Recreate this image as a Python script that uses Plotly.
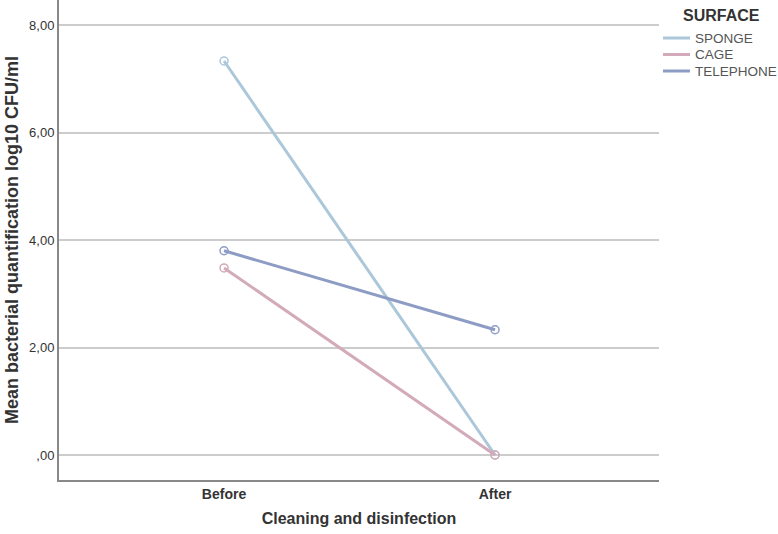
import plotly.graph_objects as go

categories = ["Before", "After"]
surfaces = ["SPONGE", "CAGE", "TELEPHONE"]
sponge = [7.33, 0.0]
cage = [3.48, 0.0]
telephone = [3.80, 2.33]
colors = ["#abc7d9", "#d3aab9", "#8d9cc4"]
y_ticks = [0, 2, 4, 6, 8]
y_tick_labels = [",00", "2,00", "4,00", "6,00", "8,00"]

series = [sponge, cage, telephone]

W, H = 778, 534
L, R, T, B = 59, 119, 0, 54
pw, ph = W - L - R, H - T - B

fig = go.Figure()
for name, vals, col in zip(surfaces, series, colors):
    fig.add_trace(go.Scatter(
        x=[0, 1], y=vals, name=name, mode="lines+markers",
        line=dict(color=col, width=3),
        marker=dict(symbol="circle-open", size=8, color=col, line=dict(width=1.5)),
        showlegend=False,
    ))

# manual legend
def px_x(p):
    return (p - L) / pw

def px_y(p):
    return (H - B - p) / ph

shapes = []
annotations = []
annotations.append(dict(text="<b>SURFACE</b>", x=px_x(681), y=px_y(15), xref="paper", yref="paper",
                        xanchor="left", yanchor="middle", showarrow=False,
                        font=dict(family="Liberation Sans, Arial", size=16, color="#333333")))
for i, (name, col) in enumerate(zip(surfaces, colors)):
    yy = [38, 54.5, 71][i]
    shapes.append(dict(type="line", xref="paper", yref="paper", x0=px_x(663), x1=px_x(690),
                       y0=px_y(yy), y1=px_y(yy), line=dict(color=col, width=3)))
    annotations.append(dict(text=name, x=px_x(693), y=px_y(yy), xref="paper", yref="paper",
                            xanchor="left", yanchor="middle", showarrow=False,
                            font=dict(family="Liberation Sans, Arial", size=13.5, color="#555555")))

fig.update_layout(
    width=W, height=H,
    margin=dict(l=L, r=R, t=T, b=B),
    paper_bgcolor="white", plot_bgcolor="white",
    shapes=shapes, annotations=annotations,
    font=dict(family="Liberation Sans, Arial", color="#333333"),
    xaxis=dict(
        range=[-0.609, 1.605], tickvals=[0, 1], ticktext=["<b>%s</b>" % c for c in categories],
        showgrid=False, zeroline=False, showline=True, linecolor="#888888", linewidth=2,
        ticks="", tickfont=dict(family="Liberation Sans Narrow, Arial Narrow, Liberation Sans, Arial", size=14, color="#333333"),
        title=dict(text="<b>Cleaning and disinfection</b>", standoff=12,
                   font=dict(family="Liberation Sans Narrow, Arial Narrow, Liberation Sans, Arial", size=16, color="#333333")),
    ),
    yaxis=dict(
        range=[-0.465, 8.465], tickvals=y_ticks, ticktext=y_tick_labels,
        showgrid=True, gridcolor="#cccccc", gridwidth=1.5, zeroline=False,
        showline=True, linecolor="#888888", linewidth=2, ticks="",
        tickfont=dict(family="Liberation Sans, Arial", size=13, color="#333333"),
        title=dict(text="<b>Mean bacterial quantification log10 CFU/ml</b>", standoff=6,
                   font=dict(family="Liberation Sans, Arial", size=18, color="#333333")),
    ),
)

fig.write_html("out.html", config={"displayModeBar": False},
               post_script="document.body.style.margin='0';")
